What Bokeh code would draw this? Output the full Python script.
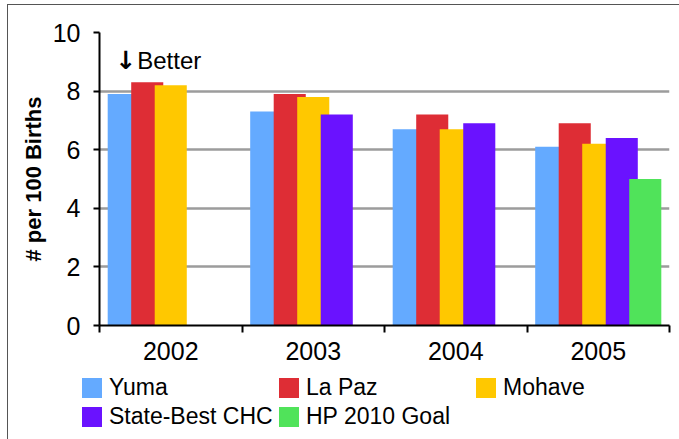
from bokeh.plotting import figure
from bokeh.layouts import column
from bokeh.models import Range1d, FixedTicker, Legend, LegendItem, Label
from bokeh.embed import file_html
from bokeh.resources import INLINE

years = ["2002", "2003", "2004", "2005"]
series = ["Yuma", "La Paz", "Mohave", "State-Best CHC", "HP 2010 Goal"]
yuma = [7.9, 7.3, 6.7, 6.1]
la_paz = [8.3, 7.9, 7.2, 6.9]
mohave = [8.2, 7.8, 6.7, 6.2]
state_best = [None, 7.2, 6.9, 6.4]
hp_goal = [None, None, None, 5.0]
colors = ["#64aaff", "#de2d35", "#ffc800", "#6a12ff", "#50e35a"]
y_ticks = [0, 2, 4, 6, 8, 10]

FONT = "Liberation Sans"

p = figure(width=671, height=365, output_backend="svg", toolbar_location=None,
           x_range=Range1d(-0.5, 3.5), y_range=Range1d(0, 10),
           min_border_left=91, min_border_right=10, min_border_top=27,
           min_border_bottom=45)
p.outline_line_color = None
p.background_fill_color = "white"
p.border_fill_color = "white"
p.frame_align = False

# gridlines
p.xgrid.grid_line_color = None
p.ygrid.ticker = FixedTicker(ticks=y_ticks)
p.ygrid.grid_line_color = "#9c9c9c"
p.ygrid.grid_line_width = 2.5

step = 0.165
bw = 0.225
all_vals = [yuma, la_paz, mohave, state_best, hp_goal]
renderers = []
for i, (name, vals, c) in enumerate(zip(series, all_vals, colors)):
    xs = [j + (i - 2) * step for j, v in enumerate(vals) if v is not None]
    ys = [v for v in vals if v is not None]
    r = p.vbar(x=xs, top=ys, bottom=0, width=bw, fill_color=c, line_color=None)
    renderers.append(r)

# x axis
xa = p.xaxis[0]
xa.ticker = FixedTicker(ticks=[0, 1, 2, 3], minor_ticks=[-0.5, 0.5, 1.5, 2.5, 3.5])
xa.major_label_overrides = {i: y for i, y in enumerate(years)}
xa.major_tick_line_color = None
xa.minor_tick_line_color = "black"
xa.minor_tick_line_width = 2
xa.minor_tick_out = 7
xa.minor_tick_in = 0
xa.axis_line_color = "black"
xa.axis_line_width = 2
xa.major_label_text_font = FONT
xa.major_label_text_font_size = "25px"
xa.major_label_text_color = "black"
xa.major_label_standoff = 9

ya = p.yaxis[0]
ya.ticker = FixedTicker(ticks=y_ticks)
ya.minor_tick_line_color = None
ya.major_tick_line_color = "black"
ya.major_tick_line_width = 2
ya.major_tick_out = 6
ya.major_tick_in = 0
ya.axis_line_color = "black"
ya.axis_line_width = 2
ya.major_label_text_font = FONT
ya.major_label_text_font_size = "25px"
ya.major_label_text_color = "black"
ya.major_label_standoff = 13
ya.axis_label = "# per 100 Births"
ya.axis_label_text_font = FONT
ya.axis_label_text_font_style = "bold"
ya.axis_label_text_font_size = "22px"
ya.axis_label_text_color = "black"
ya.axis_label_standoff = 4

# annotation
p.add_layout(Label(x=-0.39, y=9.04, text="\u2193", text_font="DejaVu Sans",
                   text_font_style="bold", text_font_size="25px",
                   text_baseline="alphabetic", text_color="black"))
p.add_layout(Label(x=-0.235, y=9.04, text="Better", text_font=FONT,
                   text_font_size="24px", text_baseline="alphabetic",
                   text_color="black"))

# legend strip under the chart (its own frame, not aligned with the chart)
q = figure(width=671, height=69, output_backend="svg", toolbar_location=None,
           x_axis_location=None, y_axis_location=None,
           x_range=Range1d(0, 1), y_range=Range1d(0, 1),
           min_border_left=0, min_border_right=0, min_border_top=0,
           min_border_bottom=0)
q.frame_align = False
q.outline_line_color = None
q.grid.visible = False
q.border_fill_color = "white"
# zero-height swatch bars: only their legend squares are visible
leg_rs = [q.vbar(x=[0.5], top=[0], bottom=[0], width=0.1, fill_color=c,
                 line_color=None) for c in colors]
items = [LegendItem(label=s, renderers=[r]) for s, r in zip(series, leg_rs)]
lg = Legend(items=items, orientation="horizontal", ncols=3,
            location=(71, 8),
            glyph_width=25, glyph_height=25, label_standoff=5,
            label_width=167, label_height=29,
            label_text_font=FONT, label_text_font_size="23px",
            label_text_color="black",
            spacing=0, padding=0, margin=0,
            border_line_color=None, background_fill_alpha=0)
q.add_layout(lg, "center")

layout = column(p, q, styles={"margin-left": "7px", "margin-top": "4px",
                              "border-left": "1px solid #555",
                              "border-top": "1px solid #555"})

open("out.html", "w").write(file_html(layout, INLINE))
